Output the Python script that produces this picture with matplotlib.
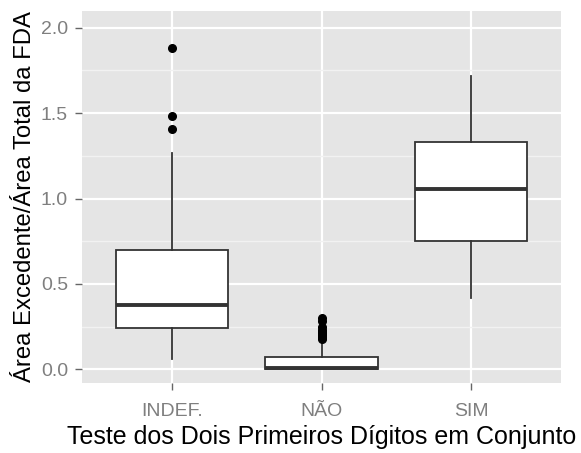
import matplotlib
matplotlib.use("Agg")
import matplotlib.pyplot as plt
from matplotlib.ticker import MultipleLocator

plt.rcParams['font.family'] = ['Liberation Sans', 'DejaVu Sans']

categories = ["INDEF.", "NÃO", "SIM"]
whisker_low = [0.058, 0.0, 0.42]
q1 = [0.242, 0.0, 0.75]
median = [0.377, 0.01, 1.056]
q3 = [0.70, 0.074, 1.33]
whisker_high = [1.267, 0.17, 1.72]
outliers = [
    [1.41, 1.485, 1.88],
    [0.18, 0.19, 0.20, 0.21, 0.22, 0.23, 0.25, 0.28, 0.30],
    [],
]
y_ticks = [0.0, 0.5, 1.0, 1.5, 2.0]
y_tick_labels = ["0.0", "0.5", "1.0", "1.5", "2.0"]
x_label = "Teste dos Dois Primeiros Dígitos em Conjunto"
y_label = "Área Excedente/Área Total da FDA"

stats = []
for i, c in enumerate(categories):
    stats.append(dict(label=c, whislo=whisker_low[i], q1=q1[i], med=median[i],
                      q3=q3[i], whishi=whisker_high[i], fliers=outliers[i]))

fig = plt.figure(figsize=(5.81, 4.53), dpi=100)
ax = fig.add_axes([82/581, 1-383.3/453, (561-82)/581, (383.3-10.7)/453])
ax.set_facecolor("#E5E5E5")

positions = list(range(1, len(categories)+1))
ax.bxp(stats, positions=positions, widths=0.75, patch_artist=True, showcaps=False,
       boxprops=dict(facecolor="white", edgecolor="#333333", linewidth=1.3),
       medianprops=dict(color="#333333", linewidth=2.8, solid_capstyle="butt"),
       whiskerprops=dict(color="#333333", linewidth=1.3),
       flierprops=dict(marker="o", markerfacecolor="black", markeredgecolor="black",
                       markersize=5.5, linestyle="none"),
       zorder=3)

ax.set_xlim(0.4, 3.6)
ax.set_ylim(-0.082, 2.1)
ax.set_yticks(y_ticks)
ax.set_yticklabels(y_tick_labels)
ax.yaxis.set_minor_locator(MultipleLocator(0.25))
ax.set_xticks(positions)
ax.set_xticklabels(categories)

ax.grid(which="major", color="white", linewidth=1.6, zorder=0)
ax.grid(which="minor", axis="y", color="#F2F2F2", linewidth=1.0, zorder=0)
ax.set_axisbelow(True)
for s in ax.spines.values():
    s.set_visible(False)

ax.tick_params(axis="both", which="major", length=5, width=1.0, color="#666666",
               labelcolor="#7F7F7F", labelsize=14)
ax.tick_params(axis="y", which="major", pad=5)
ax.tick_params(axis="x", which="major", pad=9)
ax.tick_params(axis="y", which="minor", length=0)

ax.set_xlabel(x_label, fontsize=18, color="black", labelpad=3.5)
ax.set_ylabel(y_label, fontsize=17.2, color="black", labelpad=3.5)

fig.savefig("out.png", dpi=100)
